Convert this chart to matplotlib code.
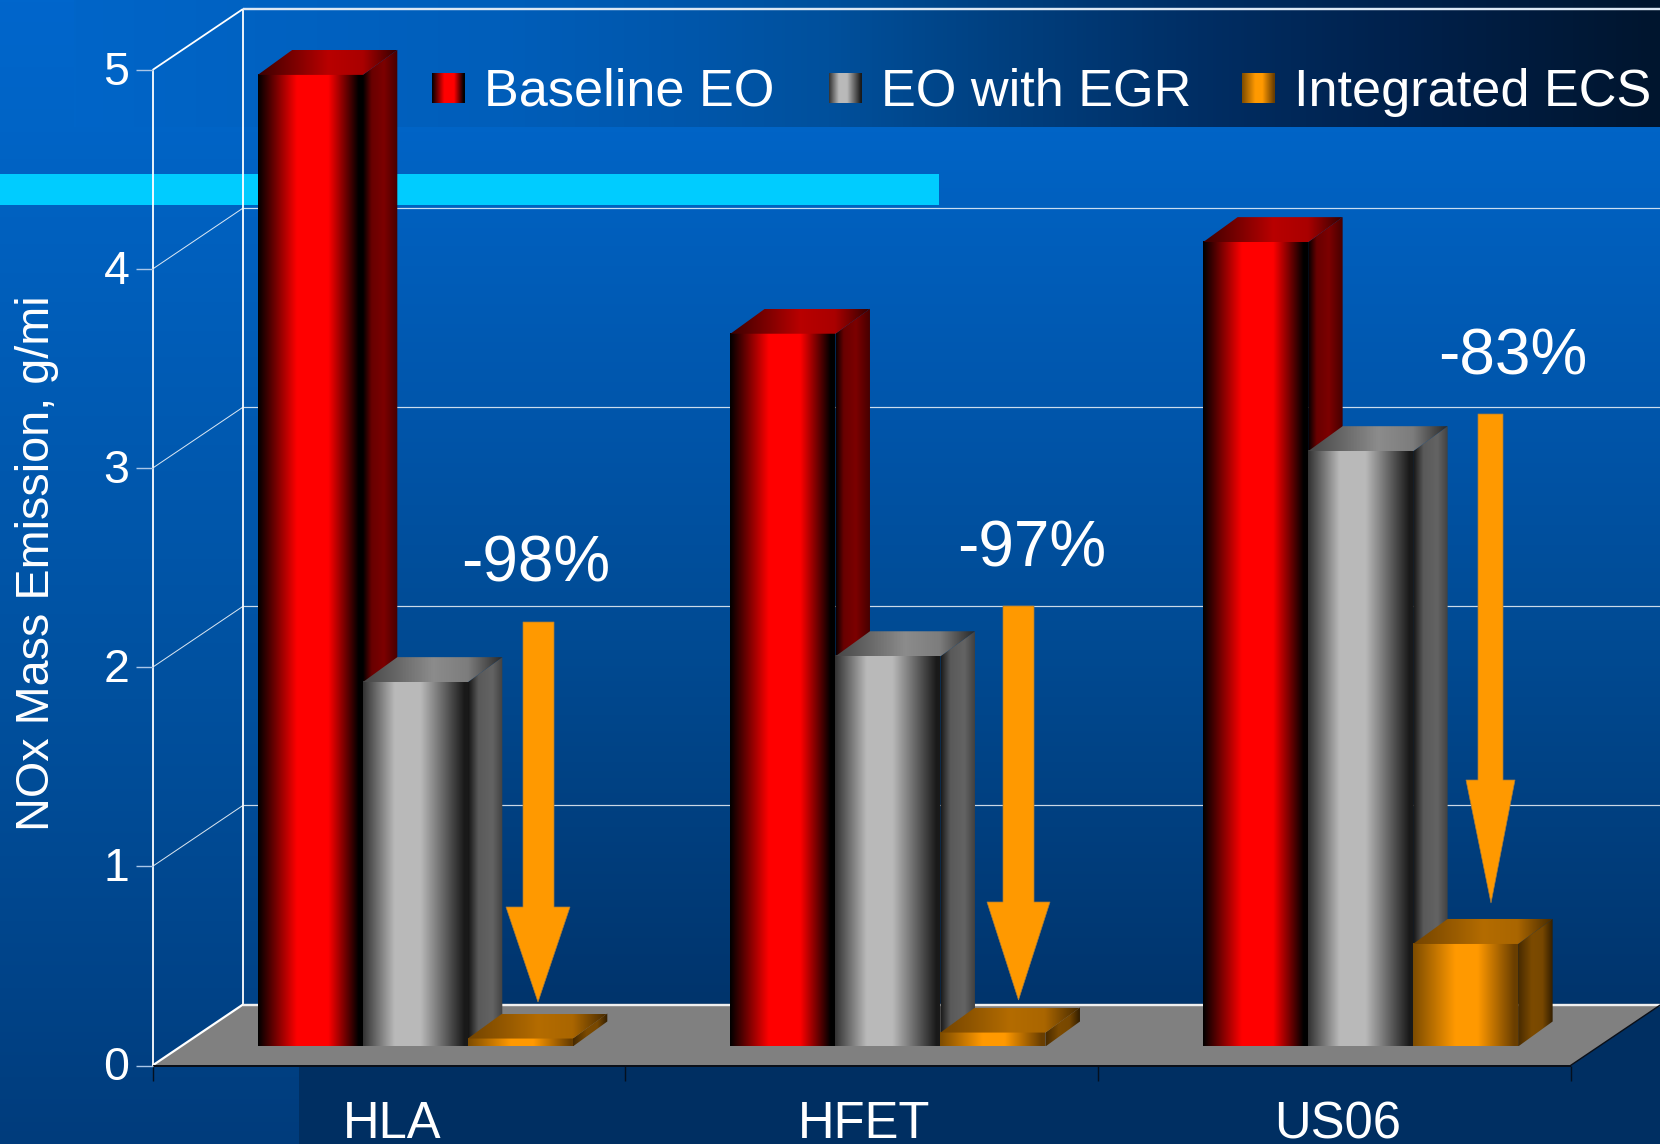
import numpy as np
import matplotlib
matplotlib.use("Agg")
import matplotlib.pyplot as plt
from matplotlib.patches import Polygon, Rectangle
from matplotlib.transforms import ScaledTranslation

plt.rcParams['font.family'] = ['Liberation Sans', 'DejaVu Sans']

# ---------- data ----------
categories = ["HLA", "HFET", "US06"]
series_names = ["Baseline EO", "EO with EGR", "Integrated ECS"]
baseline_eo = [4.88, 3.58, 4.04]
eo_with_egr = [1.83, 1.96, 2.99]
integrated_ecs = [0.04, 0.07, 0.515]
y_ticks = [0, 1, 2, 3, 4, 5]
reductions = ["-98%", "-97%", "-83%"]
y_label = "NOx Mass Emission, g/mi"

# ---------- canvas geometry (pixels of the 1660x1144 picture) ----------
W, H = 1660, 1144
AX_L, AX_R, AX_T, AX_B = 152.5, 1570.5, 70.0, 1065.5

fig = plt.figure(figsize=(W / 100, H / 100), dpi=100)
ax = fig.add_axes([AX_L / W, (H - AX_B) / H, (AX_R - AX_L) / W, (AX_B - AX_T) / H])
ax.patch.set_visible(False)
for s in ax.spines.values():
    s.set_visible(False)

UX = (AX_R - AX_L) / 3.0
UY = (AX_B - AX_T) / 5.0
def dx(p): return (p - AX_L) / UX
def dy(p): return (AX_B - p) / UY


def ramp(stops, n=512):
    pos = [s[0] for s in stops]
    t = np.linspace(pos[0], pos[-1], n)
    return np.stack([np.interp(t, pos, [s[1][c] for s in stops]) for c in range(3)], axis=1).astype(np.uint8)


def himg(stops, x0, x1, y0, y1, poly=None, z=1):
    arr = ramp(stops)[None, :, :]
    im = ax.imshow(arr, extent=(x0, x1, y0, y1), aspect='auto', origin='lower',
                   zorder=z, interpolation='bilinear')
    if poly is not None:
        p = Polygon(poly, closed=True, transform=ax.transData, fc='none', ec='none')
        im.set_clip_path(p)
    im.set_clip_box(fig.bbox)
    return im


def vimg(stops, x0, x1, y0, y1, z=1):
    # stops run from the top of the picture downward
    arr = ramp(stops)[:, None, :]
    im = ax.imshow(arr, extent=(x0, x1, y0, y1), aspect='auto', origin='upper',
                   zorder=z, interpolation='nearest')
    im.set_clip_box(fig.bbox)
    return im


# ---------- background ----------
left_bg = [(0, (0, 102, 204)), (130, (0, 100, 198)), (700, (0, 80, 158)), (1144, (0, 60, 124))]
right_bg = [(0, (0, 102, 204)), (130, (0, 100, 198)), (400, (0, 86, 172)), (650, (0, 74, 146)),
            (1003, (0, 52, 108)), (1004, (0, 47, 98)), (1144, (0, 47, 98))]
vimg(left_bg, dx(0), dx(299), dy(H), dy(0), z=0)
vimg(right_bg, dx(299), dx(W), dy(H), dy(0), z=0)

# legend band
himg([(74, (0, 101, 200)), (500, (0, 94, 186)), (700, (0, 86, 170)), (830, (0, 80, 156)),
      (1000, (0, 64, 128)), (1200, (0, 46, 100)), (1400, (0, 33, 76)), (1660, (0, 21, 46))],
     dx(74), dx(W), dy(127), dy(0), z=0.5)
# cyan strip
ax.add_patch(Rectangle((dx(0), dy(205)), dx(939) - dx(0), dy(174) - dy(205), fc='#00CCFF', ec='none',
                       zorder=0.6, clip_on=False))

# ---------- walls, floor ----------
DEPTH_X = dx(243) - dx(AX_L)
DEPTH_Y = dy(1004.5) - dy(AX_B)
x_end = 3.0
ax.add_patch(Polygon([(0, 0), (DEPTH_X, DEPTH_Y), (x_end + DEPTH_X, DEPTH_Y), (x_end, 0)], closed=True,
                     fc='#808080', ec='none', zorder=0.8, clip_on=False))

def ln(xs, ys, lw, color='white', alpha=1.0, z=0.9):
    ax.plot(xs, ys, color=color, lw=lw * 0.72, alpha=alpha, zorder=z, clip_on=False, solid_capstyle='butt')

# horizontal grid on the back wall and its diagonal on the side wall
for v in y_ticks[1:-1]:
    ln([0, DEPTH_X], [v, v + DEPTH_Y], 1.0, alpha=0.85)
    ln([DEPTH_X, x_end + DEPTH_X], [v + DEPTH_Y, v + DEPTH_Y], 1.2, alpha=0.8)
# frame
ln([0, 0], [0, 5], 1.8)
ln([DEPTH_X, DEPTH_X], [DEPTH_Y, 5 + DEPTH_Y], 1.8)
ln([0, DEPTH_X], [5, 5 + DEPTH_Y], 1.8)
ln([DEPTH_X, x_end + DEPTH_X], [5 + DEPTH_Y, 5 + DEPTH_Y], 2.4, color='#DDE8F5')
ln([0, DEPTH_X], [0, DEPTH_Y], 2.2)
ln([DEPTH_X, x_end + DEPTH_X], [DEPTH_Y, DEPTH_Y], 2.4, color='#F0F0F0')
ln([dx(1659.5), dx(1659.5)], [DEPTH_Y, dy(144)], 1.0, color='#9FC4EE', alpha=0.7)
ln([0, x_end], [0, 0], 2.0, color='#0A0F18', z=0.95)
ln([x_end, x_end + DEPTH_X], [0, DEPTH_Y], 1.4, color='#0A0F18', z=0.95)

# ---------- bars ----------
BASE = dy(1046.5)
BAR_W = 105.0 / UX
BAR_0 = (257.8 - AX_L) / UX
BAR_STEP = 105.0 / UX
BAR_DX = 34.5 / UX
BAR_DY = 25.0 / UY

palette = {
    0: dict(front=[(0, (0, 0, 0)), (.37, (255, 0, 0)), (.67, (255, 0, 0)), (.96, (0, 0, 0)), (1, (0, 0, 0))],
            side=[(0, (0, 0, 0)), (.25, (105, 0, 0)), (.6, (125, 0, 0)), (1, (70, 0, 0))],
            top=[(0, (60, 0, 0)), (.5, (185, 0, 0)), (.75, (170, 0, 0)), (1, (50, 0, 0))]),
    1: dict(front=[(0, (50, 50, 50)), (.3, (185, 185, 185)), (.55, (185, 185, 185)), (.97, (25, 25, 25)), (1, (25, 25, 25))],
            side=[(0, (20, 20, 20)), (.3, (90, 90, 90)), (.7, (100, 100, 100)), (1, (65, 65, 65))],
            top=[(0, (70, 70, 70)), (.5, (140, 140, 140)), (.75, (125, 125, 125)), (1, (40, 40, 40))]),
    2: dict(front=[(0, (125, 76, 0)), (.4, (255, 153, 0)), (.62, (255, 153, 0)), (.97, (105, 62, 0)), (1, (105, 62, 0))],
            side=[(0, (70, 42, 0)), (.4, (125, 75, 0)), (.7, (120, 72, 0)), (1, (50, 30, 0))],
            top=[(0, (115, 68, 0)), (.5, (180, 108, 0)), (.75, (170, 102, 0)), (1, (70, 42, 0))]),
}

series = [baseline_eo, eo_with_egr, integrated_ecs]
for g in range(len(categories)):
    for j, vals in enumerate(series):
        v = vals[g]
        x0 = g + BAR_0 + j * BAR_STEP
        x1 = x0 + BAR_W
        y0, y1 = BASE, BASE + v
        pal = palette[j]
        z = 2 + g + j * 0.1
        himg(pal['front'], x0, x1, y0, y1, z=z)
        himg(pal['side'], x1, x1 + BAR_DX, y0, y1 + BAR_DY,
             poly=[(x1, y0), (x1 + BAR_DX, y0 + BAR_DY), (x1 + BAR_DX, y1 + BAR_DY), (x1, y1)], z=z)
        himg(pal['top'], x0, x1 + BAR_DX, y1, y1 + BAR_DY,
             poly=[(x0, y1), (x0 + BAR_DX, y1 + BAR_DY), (x1 + BAR_DX, y1 + BAR_DY), (x1, y1)], z=z)

# ---------- reduction arrows and labels ----------
arrow_shaft = [(523, 554), (1003, 1034), (1478, 1503)]
arrow_top = [622, 606, 414]
arrow_neck = [907, 902, 780]
arrow_head = [(506, 570), (987, 1050), (1466, 1515)]
arrow_tip = [(538, 1002), (1018.5, 1000), (1491, 903)]
label_pos = [(536, 565), (1032, 550), (1513, 358)]
for i, r in enumerate(reductions):
    (a, b), (c, d) = arrow_shaft[i], arrow_head[i]
    t, n = arrow_top[i], arrow_neck[i]
    tx, ty = arrow_tip[i]
    pts = [(a, t), (b, t), (b, n), (d, n), (tx, ty), (c, n), (a, n)]
    ax.add_patch(Polygon([(dx(p), dy(q)) for p, q in pts], closed=True, fc='#FF9900', ec='#A87C3C', lw=0.5,
                         zorder=8, clip_on=False))
    ax.text(dx(label_pos[i][0]), dy(label_pos[i][1]), r, color='white', fontsize=46,
            ha='center', va='center', zorder=9, clip_on=False)

# ---------- legend ----------
swatch_x = [432, 829, 1242]
text_x = [484, 881, 1294]
for name, sx, tx, pal in zip(series_names, swatch_x, text_x, (palette[0], palette[1], palette[2])):
    himg(pal['front'], dx(sx), dx(sx + 33), dy(103), dy(73), z=9)
    ax.text(dx(tx), dy(106), name, color='white', fontsize=37.6, ha='left', va='baseline', zorder=9, clip_on=False)

# ---------- axes ----------
ax.set_xlim(0, 3)
ax.set_ylim(0, 5)
ax.set_yticks(y_ticks)
ax.set_yticklabels([str(v) for v in y_ticks], color='white', fontsize=33.5)
ax.tick_params(axis='y', length=12.2, width=1.0, color='#A9C6E8', pad=4.5, left=True)
ax.set_xticks([0, 1, 2, 3])
ax.set_xticklabels(['', '', '', ''])
ax.set_xticks([0.5, 1.5, 2.5], minor=True)
ax.set_xticklabels(categories, minor=True, color='white', fontsize=36.5)
ax.tick_params(axis='x', which='major', length=10.5, width=1.0, color='#04101F', direction='out')
ax.tick_params(axis='x', which='minor', length=0, pad=25)
shift_x = ScaledTranslation(3 / 100, 0, fig.dpi_scale_trans)
for lab in ax.get_xticklabels(minor=True):
    lab.set_transform(lab.get_transform() + shift_x)
shift_y = ScaledTranslation(0, 2 / 100, fig.dpi_scale_trans)
for lab in ax.get_yticklabels():
    lab.set_transform(lab.get_transform() + shift_y)
ax.set_ylabel(y_label, color='white', fontsize=33.7, va='center')
ax.yaxis.set_label_coords((37 - AX_L) / (AX_R - AX_L), (AX_B - 563) / (AX_B - AX_T))

fig.savefig("out.png", dpi=100)
